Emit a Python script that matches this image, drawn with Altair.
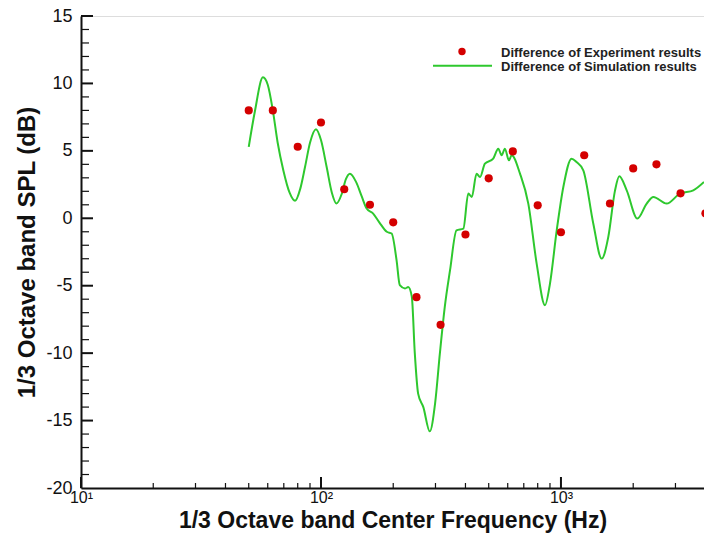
import altair as alt
import pandas as pd

# Experiment results (1/3 octave band centres)
exp_freq = [50, 63, 80, 100, 125, 160, 200, 250, 315, 400, 500, 630, 800, 1000,
            1250, 1600, 2000, 2500, 3150, 4000]
exp_db = [8.0, 8.0, 5.3, 7.1, 2.15, 1.0, -0.3, -5.85, -7.9, -1.2, 2.96, 4.96, 0.96,
          -1.04, 4.67, 1.1, 3.7, 4.0, 1.85, 0.37]

# Simulation curve (traced)
sim_freq = [50, 53, 57.3, 60, 63, 66, 69.7, 74, 78, 82, 85.8, 90, 95.3, 100, 105.6,
            111, 116, 122, 127, 132, 140, 148, 155, 165, 175, 188, 197, 206.5, 213,
            224, 231, 239, 246, 254, 267, 284, 299, 313, 328, 345, 367, 392, 411,
            425, 445, 460, 482, 522, 548, 566, 584, 607, 623, 675, 731, 792, 858,
            900, 960, 1023, 1107, 1161, 1239, 1364, 1478, 1575, 1680, 1751, 1879,
            2082, 2277, 2427, 2757, 3130, 3560, 3945]
sim_db = [5.3, 7.9, 10.45, 9.9, 8.0, 5.6, 3.55, 1.9, 1.3, 2.2, 3.8, 5.6, 6.6, 5.8,
          3.8, 1.9, 1.1, 1.8, 2.9, 3.3, 2.7, 1.6, 0.72, 0.35, -0.3, -1.0, -1.13,
          -3.1, -4.96, -5.2, -5.1, -5.8, -10.0, -13.0, -14.0, -15.8, -13.7, -10.0,
          -6.57, -3.85, -0.9, -0.77, 1.83, 1.58, 3.31, 3.06, 4.05, 4.42, 5.16, 4.67,
          5.16, 4.3, 4.67, 3.31, 1.09, -3.36, -6.44, -4.84, -0.9, 2.32, 4.42, 4.17,
          3.56, -0.4, -2.99, -1.38, 2.07, 3.11, 2.07, -0.02, 1.09, 1.58, 1.09, 1.83,
          2.07, 2.69]

x_major = [10, 100, 1000]
x_minor = [20, 30, 40, 50, 60, 70, 80, 90, 200, 300, 400, 500, 600, 700, 800, 900,
           2000, 3000]
y_labels = [-20, -15, -10, -5, 0, 5, 10, 15]
y_major = [-15, -10, -5, 0, 5, 10, 15]
y_minor = [v for v in range(-19, 15) if v % 5 != 0]

legend_labels = ["Difference of Experiment results", "Difference of Simulation results"]

W, H = 623, 472
RED = "#d40000"
GREEN = "#2ec82e"

xscale = alt.Scale(type="log", domain=[10, 3945], nice=False)
yscale = alt.Scale(domain=[-20, 15], nice=False, zero=False)

sup = "datum.value == 10 ? '10\u00b9' : datum.value == 100 ? '10\u00b2' : '10\u00b3'"
xaxis = alt.Axis(title="1/3 Octave band Center Frequency (Hz)", values=x_major,
                 labelExpr=sup, ticks=False, grid=False, domainColor="#111",
                 domainWidth=2, labelFontSize=16, labelPadding=1,
                 labelColor="#111", titleFontSize=23, titleFontWeight="bold",
                 titlePadding=4, titleColor="#111", labelFlush=False)
yaxis = alt.Axis(title="1/3 Octave band SPL (dB)", values=y_labels, ticks=False,
                 labelExpr="'' + datum.value",
                 grid=False, domainColor="#111", domainWidth=2, labelFontSize=18,
                 labelPadding=9, labelColor="#111", titleFontSize=24,
                 titleFontWeight="bold", titlePadding=6, titleColor="#111",
                 labelFlush=False)

X = alt.X("f:Q", scale=xscale, axis=xaxis)
Y = alt.Y("v:Q", scale=yscale, axis=yaxis)

exp_df = pd.DataFrame({"f": exp_freq, "v": exp_db})
sim_df = pd.DataFrame({"f": sim_freq, "v": sim_db})

line = alt.Chart(sim_df).mark_line(color=GREEN, strokeWidth=2, interpolate="monotone",
                                   clip=True).encode(x=X, y=Y)

points = alt.Chart(exp_df).mark_point(filled=True, shape="circle", size=66, color=RED,
                                      opacity=1, clip=True).encode(x=X, y=Y)

xmaj = alt.Chart(pd.DataFrame({"f": x_major})).mark_rule(color="#111", strokeWidth=2).encode(
    x=X, y=alt.value(H), y2=alt.value(H - 11))
xmin = alt.Chart(pd.DataFrame({"f": x_minor})).mark_rule(color="#111", strokeWidth=1.2).encode(
    x=X, y=alt.value(H), y2=alt.value(H - 5))
ymaj = alt.Chart(pd.DataFrame({"v": y_major})).mark_rule(color="#111", strokeWidth=2).encode(
    y=Y, x=alt.value(0), x2=alt.value(12))
ymin = alt.Chart(pd.DataFrame({"v": y_minor})).mark_rule(color="#111", strokeWidth=1.2).encode(
    y=Y, x=alt.value(0), x2=alt.value(8))

leg_text1 = alt.Chart(pd.DataFrame({"label": [legend_labels[0]]})).mark_text(
    align="left", baseline="middle", fontSize=13, fontWeight="bold", color="#222").encode(
    x=alt.value(420), y=alt.value(36.5), text="label:N")
leg_text2 = alt.Chart(pd.DataFrame({"label": [legend_labels[1]]})).mark_text(
    align="left", baseline="middle", fontSize=13, fontWeight="bold", color="#222").encode(
    x=alt.value(420), y=alt.value(50.5), text="label:N")
leg_pt = alt.Chart(pd.DataFrame({"label": [legend_labels[0]]})).mark_point(
    filled=True, shape="circle", size=55, color=RED, opacity=1).encode(
    x=alt.value(381), y=alt.value(35.5))
leg_ln = alt.Chart(pd.DataFrame({"label": [legend_labels[1]]})).mark_rule(
    color=GREEN, strokeWidth=2).encode(
    x=alt.value(352), x2=alt.value(411), y=alt.value(49.7))

chart = alt.layer(line, points, xmaj, xmin, ymaj, ymin, leg_text1, leg_text2, leg_pt, leg_ln).properties(
    width=W, height=H,
    autosize=alt.AutoSizeParams(type="none"),
    padding={"left": 81, "top": 16, "right": 0, "bottom": 45},
    background="white",
).configure_view(stroke=None).configure(font="Liberation Sans")

chart.save("out.html", embed_options={"renderer": "svg", "actions": False})
